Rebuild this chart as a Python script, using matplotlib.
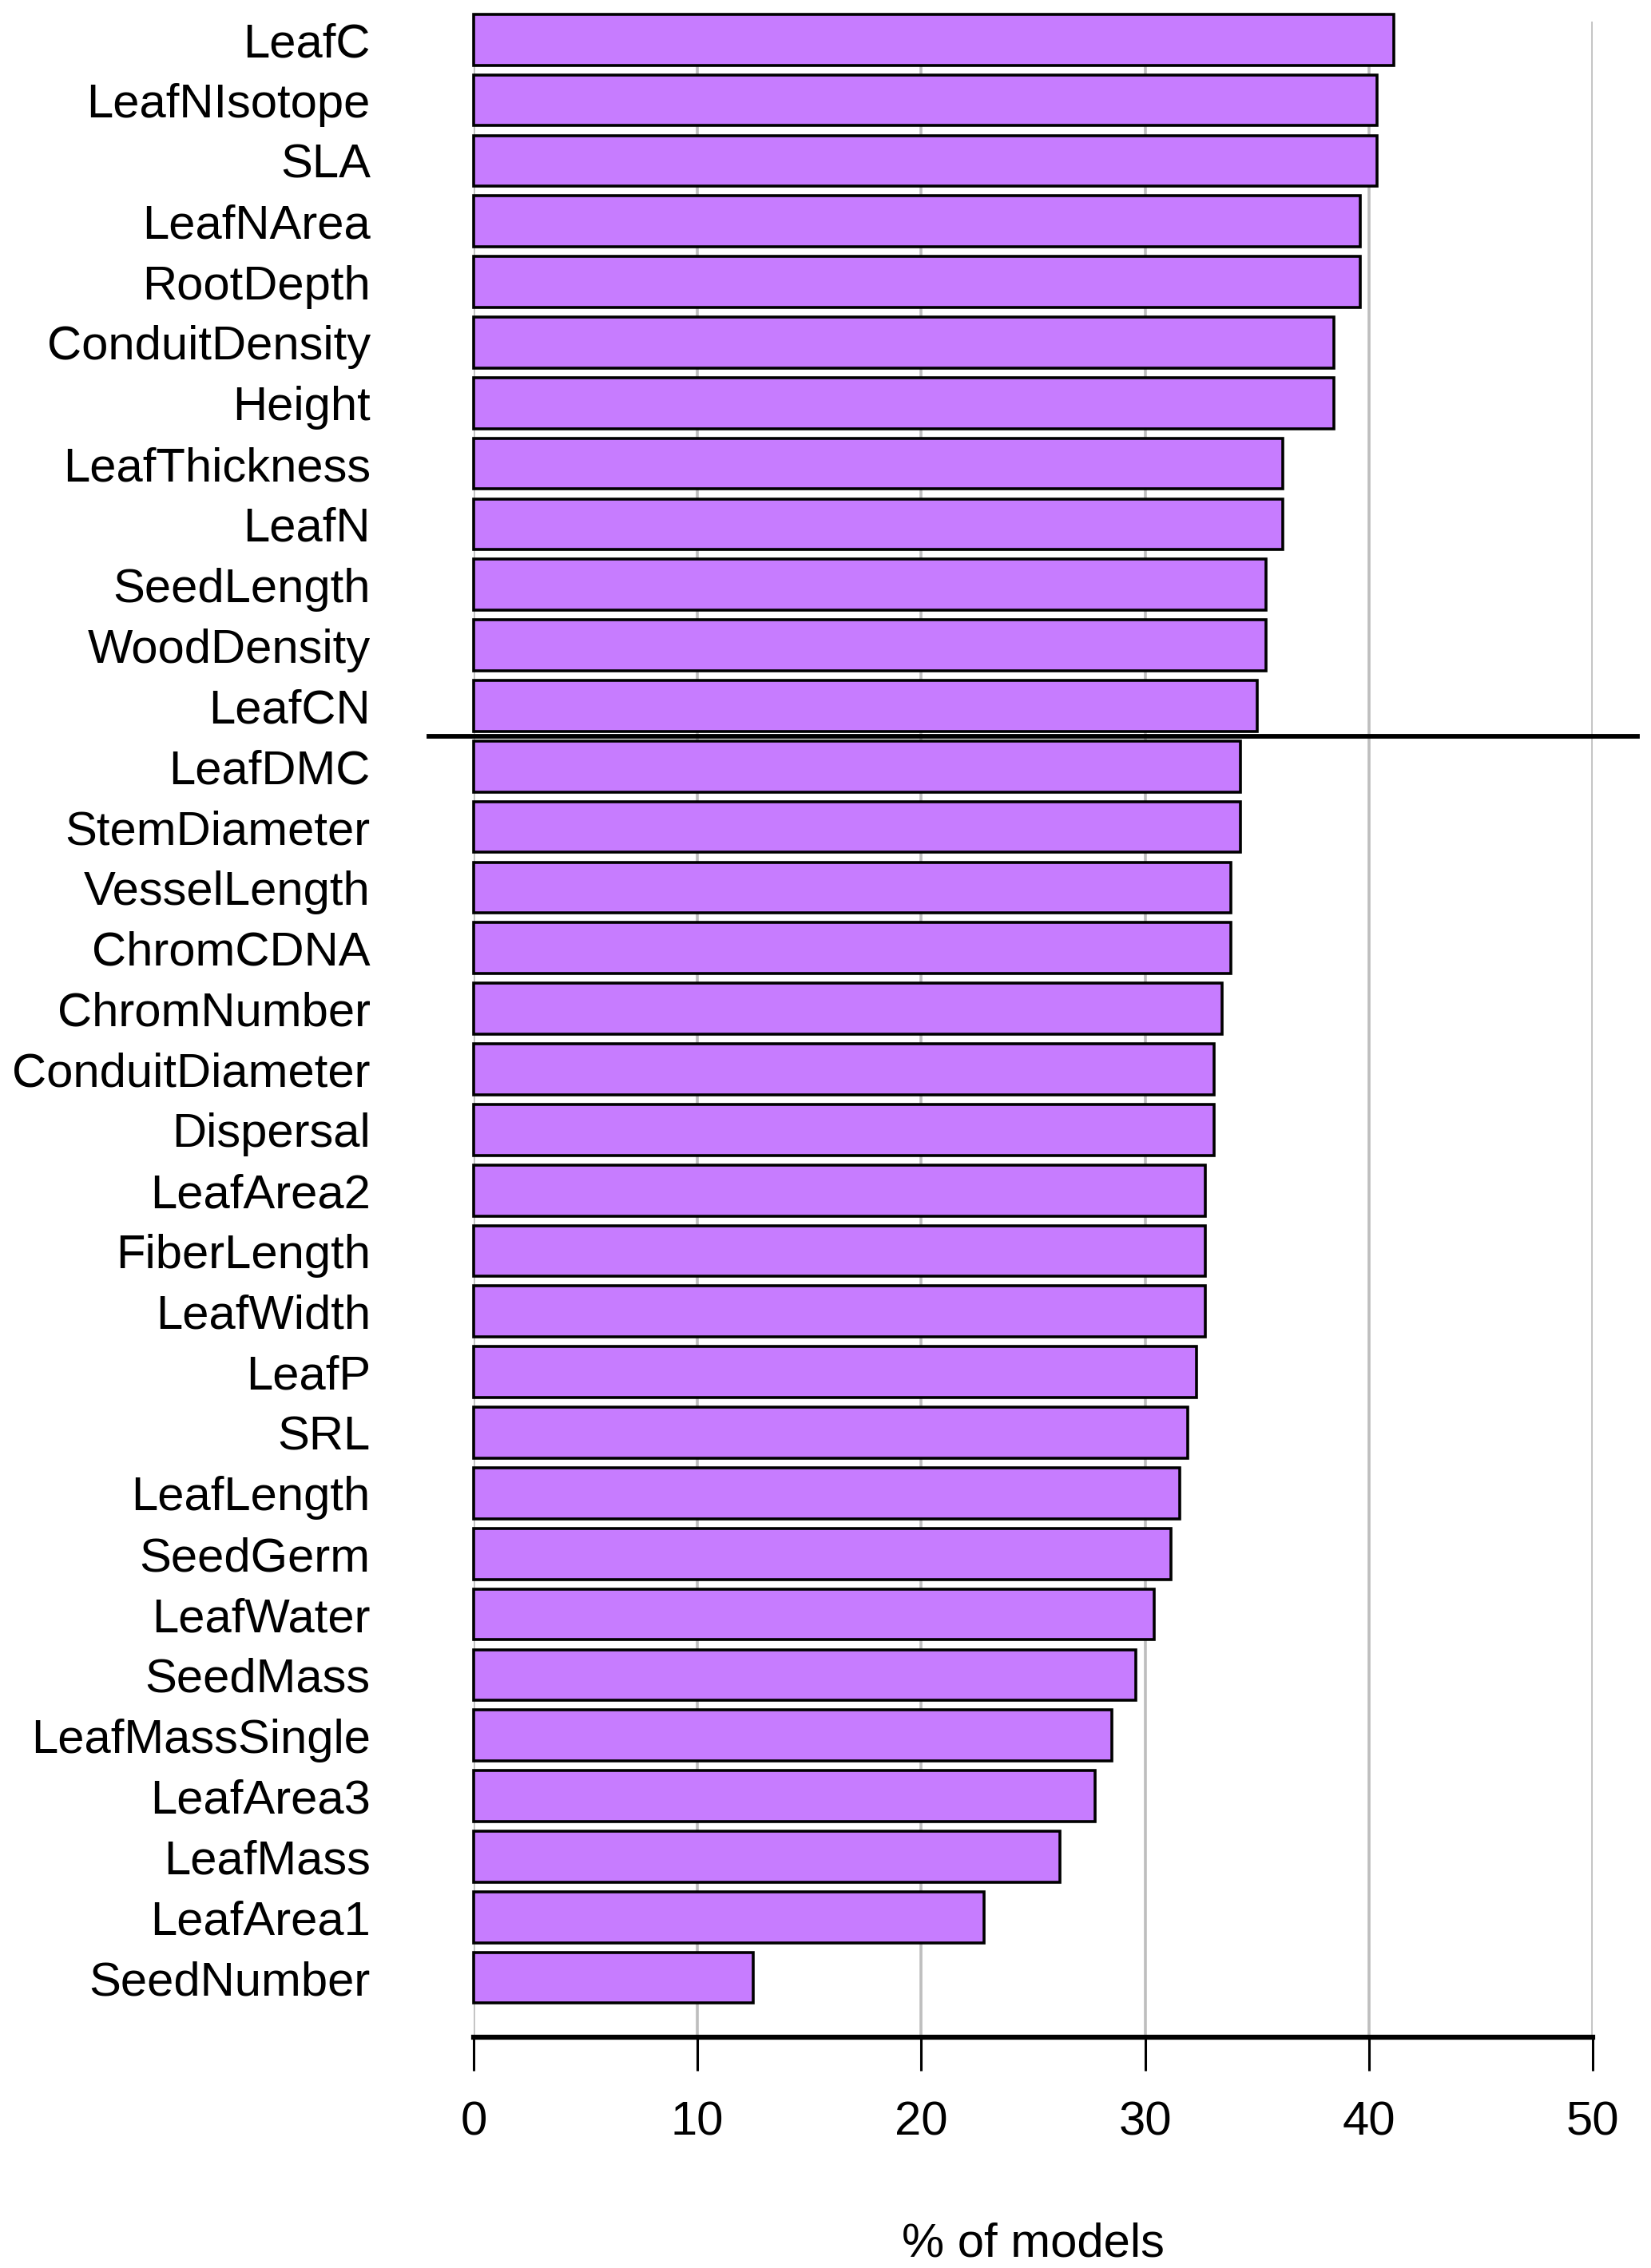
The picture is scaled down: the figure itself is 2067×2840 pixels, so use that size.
import numpy as np
import matplotlib
matplotlib.use('Agg')
import matplotlib.pyplot as plt

# traits, top to bottom
traits = ['LeafC', 'LeafNIsotope', 'SLA', 'LeafNArea', 'RootDepth', 'ConduitDensity',
          'Height', 'LeafThickness', 'LeafN', 'SeedLength', 'WoodDensity', 'LeafCN',
          'LeafDMC', 'StemDiameter', 'VesselLength', 'ChromCDNA', 'ChromNumber',
          'ConduitDiameter', 'Dispersal', 'LeafArea2', 'FiberLength', 'LeafWidth',
          'LeafP', 'SRL', 'LeafLength', 'SeedGerm', 'LeafWater', 'SeedMass',
          'LeafMassSingle', 'LeafArea3', 'LeafMass', 'LeafArea1', 'SeedNumber']
pct_models = [41.1, 40.35, 40.35, 39.6, 39.6, 38.45, 38.45, 36.15, 36.15, 35.4, 35.4, 35.0,
              34.25, 34.25, 33.85, 33.85, 33.45, 33.1, 33.1, 32.7, 32.7, 32.7,
              32.3, 31.9, 31.55, 31.15, 30.4, 29.6, 28.5, 27.75, 26.2, 22.8, 12.5]
xticks = [0, 10, 20, 30, 40, 50]
split_after = 12   # line drawn under the first 12 traits

plt.rcParams['font.family'] = ['Liberation Sans', 'DejaVu Sans']

fig = plt.figure(figsize=(20.67, 28.40), dpi=100)
ax = fig.add_axes([593/2067, 0.1018, 1401/2067, 0.9905 - 0.1018])

y = np.arange(len(traits))
ax.barh(y, pct_models, height=0.84, color='#C77CFF', edgecolor='black',
        linewidth=2.6, zorder=2, clip_on=False)

ax.set_xlim(0, 50)
ax.set_ylim(len(traits) - 1 + 0.98, -0.3)
ax.set_xticks(xticks)
ax.set_yticks(y)
ax.set_yticklabels(traits)

ax.grid(axis='x', color='#BEBEBE', linewidth=2.6, zorder=0)
ax.set_axisbelow(True)

for s in ['top', 'right', 'left']:
    ax.spines[s].set_visible(False)
ax.spines['bottom'].set_linewidth(4.5)
ax.spines['bottom'].set_zorder(3)

ax.tick_params(axis='y', length=0, pad=93, labelsize=43)
ax.tick_params(axis='x', length=30, width=2.2, direction='out', pad=27, labelsize=43)

ax.plot([-2, 52], [split_after - 0.5, split_after - 0.5], color='black',
        linewidth=4.2, clip_on=False, zorder=4)

ax.set_xlabel('% of models', fontsize=43, labelpad=70)

fig.savefig('out.png', dpi=100)
